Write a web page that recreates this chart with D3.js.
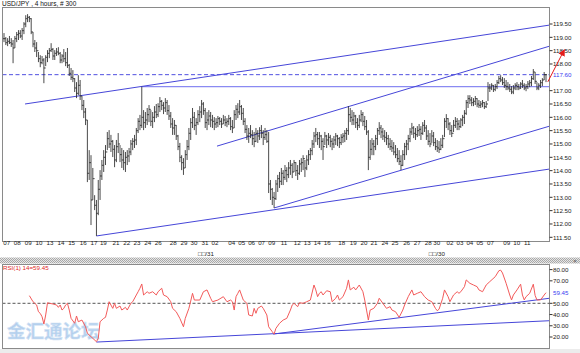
<!DOCTYPE html>
<html>
<head>
<meta charset="utf-8">
<script src="https://cdn.jsdelivr.net/npm/d3@7"></script>
<style>
  html, body { margin: 0; padding: 0; background: #fff; }
  svg { display: block; font-family: "Liberation Sans", Arial, sans-serif; }
</style>
</head>
<body>
<div id="chart"></div>
<script>
// 4-hour USD/JPY bars (bar 0 = left edge)
const high = [
  119.16,119.01,118.97,119.05,118.97,118.90,119.05,119.20,119.27,119.27,
  119.35,119.57,119.83,119.87,119.80,119.72,119.20,118.90,118.82,118.45,
  118.33,118.30,118.22,118.33,118.52,118.60,118.78,118.60,118.52,118.60,
  118.63,118.45,118.37,118.56,118.45,118.60,118.00,117.85,117.77,117.47,
  117.32,117.58,117.40,116.80,116.65,116.35,115.90,114.77,114.58,114.10,
  113.08,112.90,113.65,114.02,114.40,114.77,114.96,115.45,115.52,115.34,
  115.15,114.96,115.15,115.41,114.96,114.85,114.77,114.70,114.77,114.85,
  115.15,115.22,115.34,115.60,115.97,116.09,117.15,116.27,116.20,116.35,
  116.46,116.27,116.20,116.42,116.50,116.53,116.76,116.65,116.57,116.72,
  116.65,116.46,116.20,115.97,115.90,115.71,115.34,115.04,114.58,114.47,
  114.77,115.15,115.60,115.97,116.35,116.20,115.97,116.27,116.42,116.65,
  116.57,116.35,116.20,116.27,116.20,116.09,116.01,115.97,116.05,116.01,
  115.97,116.09,116.05,115.97,116.09,116.01,115.90,116.27,116.46,116.53,
  116.65,116.46,116.35,115.97,115.71,115.60,115.71,115.52,115.45,115.60,
  115.52,115.63,115.71,115.52,115.60,115.52,115.45,113.65,113.35,113.20,
  113.65,113.84,113.95,114.10,114.02,114.21,114.13,114.32,114.40,114.28,
  114.40,114.32,114.21,114.40,114.47,114.58,114.40,114.58,114.77,114.85,
  115.15,115.45,115.60,115.45,115.45,115.34,115.22,115.45,115.34,115.41,
  115.34,115.22,115.30,115.41,115.34,115.26,115.37,115.41,115.52,115.60,
  116.42,116.35,116.27,116.20,116.09,115.97,116.09,116.27,116.20,116.05,
  115.90,115.52,115.15,115.22,115.15,115.34,115.60,115.82,115.71,115.60,
  115.52,115.45,115.34,115.22,115.15,115.07,114.96,114.85,114.77,114.58,
  114.77,115.04,115.15,115.34,115.60,115.79,115.67,115.60,115.67,115.75,
  115.67,115.82,115.90,115.71,115.52,115.41,115.52,115.45,115.22,115.15,
  115.11,115.22,115.34,115.97,116.12,115.97,115.82,115.71,115.90,116.01,
  115.97,115.90,115.97,116.09,116.27,116.65,116.83,116.83,116.76,116.72,
  116.80,116.72,116.65,116.61,116.65,116.57,116.61,117.32,117.25,117.28,
  117.21,117.25,117.40,117.55,117.58,117.51,117.47,117.40,117.32,117.25,
  117.17,117.21,117.28,117.32,117.25,117.32,117.40,117.28,117.25,117.36,
  117.40,117.55,117.81,117.70,117.32,117.28,117.40,117.47,117.70,117.62
];
const low = [
  118.82,118.71,118.67,118.75,118.64,118.03,118.60,118.82,118.90,118.97,
  118.90,119.12,119.38,119.57,119.57,119.12,118.63,118.45,118.26,118.07,
  117.88,117.99,117.28,117.92,118.07,118.22,118.45,118.15,118.15,118.30,
  118.33,118.03,118.03,118.07,117.92,117.85,117.55,117.40,117.32,116.95,
  116.72,116.83,116.65,116.27,115.97,115.71,113.57,113.65,111.96,112.90,
  112.52,111.55,112.33,112.90,113.65,113.95,114.21,114.77,114.85,114.70,
  114.51,114.13,114.32,114.66,114.32,114.10,114.02,113.95,114.21,114.32,
  114.58,114.77,114.85,114.96,115.41,115.52,115.60,115.52,115.60,115.71,
  115.82,115.67,115.60,115.82,115.97,116.01,116.20,116.27,116.12,116.20,
  116.09,115.90,115.60,115.34,115.34,115.15,114.77,114.32,114.02,113.84,
  114.10,114.40,114.77,115.15,115.60,115.52,115.34,115.71,115.82,115.97,
  116.09,115.60,115.52,115.71,115.63,115.60,115.52,115.60,115.63,115.71,
  115.60,115.75,115.67,115.63,115.71,115.52,115.41,115.60,115.90,115.97,
  116.09,115.90,115.71,115.41,115.15,115.04,115.22,114.96,114.88,115.07,
  115.04,115.15,115.22,114.96,115.15,115.04,113.16,112.90,112.71,112.60,
  112.90,113.20,113.35,113.46,113.46,113.65,113.57,113.72,113.84,113.72,
  113.95,113.80,113.65,113.84,113.95,114.02,113.76,114.02,114.21,114.40,
  114.58,114.85,115.07,114.96,114.85,114.77,114.40,114.96,114.85,114.96,
  114.88,114.77,114.85,114.96,114.92,114.85,114.96,115.04,115.07,115.15,
  115.34,115.82,115.71,115.71,115.60,115.52,115.60,115.82,115.67,115.52,
  115.34,114.02,114.40,114.58,114.58,114.77,114.96,115.34,115.22,115.15,
  115.07,114.96,114.85,114.77,114.70,114.58,114.47,114.32,114.21,114.02,
  114.17,114.40,114.58,114.77,115.07,115.34,115.22,115.15,115.26,115.30,
  115.15,115.34,115.45,115.15,114.96,114.88,115.04,114.92,114.77,114.70,
  114.66,114.77,114.85,115.26,115.60,115.52,115.34,115.26,115.45,115.60,
  115.52,115.52,115.60,115.67,115.75,116.09,116.35,116.50,116.42,116.42,
  116.46,116.38,116.35,116.35,116.38,116.31,116.35,116.61,116.95,117.02,
  116.95,116.98,117.06,117.25,117.32,117.21,117.10,117.02,117.02,116.95,
  116.87,116.87,117.02,117.02,117.02,117.06,117.10,117.02,116.98,117.06,
  117.13,117.17,117.40,117.25,117.02,117.02,117.10,117.17,117.40,117.32
];
const close = [
  118.95,118.80,118.85,118.80,118.75,118.60,118.95,119.10,119.15,119.05,
  119.25,119.50,119.70,119.75,119.70,119.20,118.75,118.60,118.50,118.20,
  118.05,118.15,117.85,118.25,118.40,118.50,118.55,118.30,118.40,118.45,
  118.40,118.15,118.30,118.20,118.05,117.95,117.65,117.50,117.45,117.10,
  116.90,117.20,116.80,116.45,116.20,115.90,113.90,114.30,112.90,113.70,
  112.70,112.40,113.30,113.80,114.20,114.50,114.70,115.20,115.00,115.10,
  114.80,114.40,114.90,115.00,114.60,114.40,114.30,114.50,114.55,114.70,
  115.00,115.10,115.15,115.50,115.85,115.70,116.00,115.80,115.90,116.10,
  116.30,115.85,116.00,116.20,116.10,116.40,116.60,116.45,116.35,116.55,
  116.25,116.05,115.75,115.60,115.70,115.30,114.90,114.50,114.30,114.10,
  114.60,114.90,115.40,115.80,116.00,115.70,115.80,116.10,116.20,116.50,
  116.25,115.80,115.90,116.05,115.90,115.85,115.75,115.80,115.95,115.85,
  115.75,115.90,115.80,115.85,115.95,115.65,115.60,116.10,116.30,116.20,
  116.40,116.15,115.85,115.55,115.30,115.40,115.35,115.20,115.10,115.40,
  115.30,115.50,115.40,115.25,115.35,115.10,113.50,113.30,113.00,112.95,
  113.50,113.70,113.60,113.90,113.75,114.00,113.85,114.10,114.20,113.95,
  114.30,114.00,113.90,114.25,114.30,114.45,114.10,114.40,114.60,114.75,
  115.00,115.30,115.35,115.20,115.30,115.10,114.90,115.30,115.15,115.25,
  115.10,115.00,115.15,115.30,115.20,115.05,115.25,115.30,115.40,115.50,
  116.10,116.00,115.90,116.05,115.80,115.70,115.90,116.10,115.85,115.65,
  115.45,114.50,114.80,115.00,114.90,115.20,115.50,115.60,115.45,115.30,
  115.25,115.20,115.00,114.90,114.85,114.70,114.60,114.45,114.35,114.20,
  114.60,114.90,115.00,115.20,115.45,115.60,115.40,115.35,115.50,115.55,
  115.40,115.70,115.60,115.30,115.10,115.00,115.30,115.05,114.90,114.85,
  114.80,114.95,115.20,115.85,115.95,115.75,115.50,115.40,115.70,115.85,
  115.75,115.65,115.90,116.00,116.15,116.55,116.70,116.65,116.55,116.60,
  116.70,116.50,116.45,116.50,116.55,116.40,116.50,117.10,117.10,117.20,
  117.05,117.15,117.30,117.45,117.40,117.30,117.20,117.15,117.10,117.05,
  116.95,117.10,117.20,117.15,117.10,117.25,117.20,117.10,117.15,117.25,
  117.30,117.45,117.70,117.35,117.10,117.20,117.30,117.40,117.60,117.60
];

// RSI(14) read at these bars
const rsiBar = [
  14,16,18,19,20,21,22,23,24,25,27,29,30,31,32,33,34,35,36,37,39,40,41,43,45,46,48,
  51,52,53,55,56,57,58,60,61,62,64,65,67,68,70,71,73,74,75,76,77,79,80,82,84,85,87,
  88,90,92,93,95,97,99,100,102,103,104,105,108,110,112,114,115,118,121,123,125,126,
  127,128,129,130,132,134,135,137,138,139,140,142,143,145,146,148,149,150,152,154,
  156,158,159,160,162,163,165,167,169,171,172,173,174,175,176,178,180,181,183,184,
  185,187,189,190,191,193,194,196,198,199,200,201,202,204,206,207,209,211,213,214,
  216,218,220,221,223,225,226,228,230,232,234,236,238,239,240,242,243,245,246,248,
  250,251,252,254,255,257,259,261,262,264,266,268,271,273,274,275,277,279,280,281,
  283,285,286,287,288,290,292,293,294,296,298,299
];
const rsiVal = [
  56.8,51.4,48.5,42.5,41.0,38.0,31.6,39.6,50.5,50.0,49.4,48.5,46.4,48.5,44.0,45.5,48.5,50.0,44.0,36.6,32.2,38.7,33.6,35.1,29.1,23.3,20.3,
  15.8,18.8,33.6,36.6,37.5,44.0,51.4,45.5,50.0,45.5,47.6,44.0,46.4,44.0,50.0,51.4,57.4,60.3,63.4,67.2,57.4,60.3,58.9,60.3,57.4,60.3,63.4,
  57.4,55.9,51.4,45.5,42.5,36.6,29.1,36.6,45.5,52.0,58.9,52.9,52.9,60.3,61.9,54.5,51.4,52.9,55.9,51.4,52.9,51.4,
  44.0,55.9,58.9,61.9,52.9,50.0,39.6,38.7,45.5,41.1,45.5,47.6,45.5,39.6,29.1,24.7,22.6,27.7,32.2,35.1,
  36.6,44.0,48.5,50.0,47.0,50.5,50.0,51.4,52.9,66.3,61.9,55.9,58.9,60.3,57.4,61.2,60.3,51.4,54.5,57.4,
  52.9,55.9,63.4,70.8,61.9,64.3,61.9,66.3,60.3,52.9,44.0,35.1,44.0,45.5,50.0,54.5,50.0,45.5,47.0,44.0,
  42.5,37.5,44.0,48.5,55.9,61.9,57.4,58.9,60.3,55.9,52.9,51.4,45.5,43.4,44.7,54.5,61.9,55.9,51.4,57.4,
  60.3,58.9,60.3,64.8,70.8,67.8,66.3,64.8,61.9,60.3,66.3,69.3,73.7,79.0,79.5,77.0,67.8,57.4,53.0,57.4,
  61.9,67.0,57.4,53.0,55.9,58.9,67.0,57.0,53.0,53.0,57.4,59.45
];

// axis labels
const priceTicks = [111.5,112,112.5,113,113.5,114,114.5,115,115.5,116,116.5,117,118,118.5,119,119.5];
const lastPrice = 117.60;
const rsiTicks = [20,30,40,50,70,80];
const lastRsi = 59.45;
const dayLabels = ["07","08","09","10","13","14","15","16","17","19","21","22","23","24","26","28","29","30","31","02",
  "04","05","06","07","09","11","12","13","14","16","18","19","20","21","24","25","26","27","28","30",
  "02","03","04","05","07","09","10","11"];
const dayBars = [1.5,7.3,13.4,19.3,25.4,31.4,37.3,43.7,49.6,54.8,61.8,67.7,73.4,79.3,85.1,93.4,99.3,104.8,110.9,116.4,
  125.6,131.1,136.6,142.1,147.7,154.4,161.8,167.3,172.8,178.3,186.3,192.7,198.6,204.1,210.1,215.7,222.1,228,234,238.7,
  246,251.5,257,262.5,268.4,277.3,282.8,288.6];
const monthLabels = ["□□/31", "□□/30"];
const monthBars = [111.4, 238.8];

// trend lines: [bar0, value0, bar1, value1]
const priceLines = [[11.6,116.50,301,119.46],[117.5,114.92,301,118.67],[149,112.60,301,115.67],[51,111.55,301,114.06]];
const levelLine = [76, 117.15];
const rsiLines = [[51,15.5,301,34.5],[148.5,22.6,301,54.5]];
const arrowLine = [300, 117.33, 309, 118.52];

const W = 580, H = 353;
const svg = d3.select("#chart").append("svg").attr("width", W).attr("height", H);

const main = { left: 2.5, right: 549.5, top: 7.5, bottom: 241.5 };
const sub = { left: 2.5, right: 549.5, top: 264.5, bottom: 348.5 };

const x = d3.scaleLinear().domain([0, 299]).range([4, 546]);
const y = d3.scaleLinear().domain([111.5, 119.5]).range([237.3, 24]);
const yr = d3.scaleLinear().domain([20, 80]).range([337, 269.6]);

const blue = "#4646d8";
const fontSize = 6.2;

// clips, hatch and arrow head
const defs = svg.append("defs");
defs.append("clipPath").attr("id", "clipMain").append("rect")
  .attr("x", main.left).attr("y", main.top).attr("width", main.right - main.left).attr("height", main.bottom - main.top);
defs.append("clipPath").attr("id", "clipSub").append("rect")
  .attr("x", sub.left).attr("y", sub.top).attr("width", sub.right - sub.left).attr("height", sub.bottom - sub.top);
const hatch = defs.append("pattern").attr("id", "hatch").attr("width", 2).attr("height", 2)
  .attr("patternUnits", "userSpaceOnUse");
hatch.append("rect").attr("width", 2).attr("height", 2).attr("fill", "#e6e6e6");
hatch.append("rect").attr("width", 1).attr("height", 1).attr("fill", "#a8a8a8");
hatch.append("rect").attr("x", 1).attr("y", 1).attr("width", 1).attr("height", 1).attr("fill", "#a8a8a8");
defs.append("marker").attr("id", "arrowHead").attr("viewBox", "0 0 10 10")
  .attr("refX", 8).attr("refY", 5).attr("markerWidth", 7).attr("markerHeight", 7)
  .attr("markerUnits", "userSpaceOnUse").attr("orient", "auto")
  .append("path").attr("d", "M0,0 L10,5 L0,10 z").attr("fill", "#e41c1c");

// window strips
svg.append("rect").attr("x", 0).attr("y", 257.5).attr("width", W).attr("height", 6).attr("fill", "url(#hatch)");
svg.append("rect").attr("x", 0).attr("y", 349).attr("width", W).attr("height", 4).attr("fill", "#ececec");
svg.append("text").attr("x", 575).attr("y", 262.5).attr("text-anchor", "middle")
  .style("font-size", "6px").attr("fill", "#555").text("×");

// title
svg.append("text").attr("x", 2).attr("y", 6.2).style("font-size", "6.5px").attr("fill", "#111")
  .text("USD/JPY , 4 hours, # 300");

// ---- main price panel ----
const gMain = svg.append("g").attr("clip-path", "url(#clipMain)");

gMain.append("line")
  .attr("x1", main.left).attr("x2", main.right)
  .attr("y1", y(lastPrice)).attr("y2", y(lastPrice))
  .attr("stroke", "#5050e0").attr("stroke-dasharray", "4,2.5").attr("stroke-width", 1);

gMain.append("line")
  .attr("x1", x(levelLine[0])).attr("x2", main.right)
  .attr("y1", y(levelLine[1])).attr("y2", y(levelLine[1]))
  .attr("stroke", "#8a8af2").attr("stroke-width", 1.4);

gMain.selectAll(".tl").data(priceLines).enter().append("line")
  .attr("class", "tl")
  .attr("x1", d => x(d[0])).attr("y1", d => y(d[1]))
  .attr("x2", d => x(d[2])).attr("y2", d => y(d[3]))
  .attr("stroke", blue).attr("stroke-width", 1);

// OHLC bars, open tick taken from the previous close
gMain.append("g").selectAll("path").data(high).enter().append("path")
  .attr("d", (h, i) => {
    const cx = x(i);
    const o = i > 0 ? close[i - 1] : close[i];
    return `M${cx},${y(h)}V${y(low[i])}M${cx - 1},${y(o)}H${cx}M${cx},${y(close[i])}H${cx + 1}`;
  })
  .attr("fill", "none").attr("stroke", "#2a2a2a").attr("stroke-width", 0.85);

svg.append("rect").attr("x", main.left).attr("y", main.top)
  .attr("width", main.right - main.left).attr("height", main.bottom - main.top)
  .attr("fill", "none").attr("stroke", "#8a8a8a");

// price axis
const pAxis = svg.append("g").style("font-size", fontSize + "px");
pAxis.selectAll("line").data(priceTicks).enter().append("line")
  .attr("x1", main.right).attr("x2", main.right + 3)
  .attr("y1", d => y(d)).attr("y2", d => y(d)).attr("stroke", "#333");
pAxis.selectAll("text").data(priceTicks).enter().append("text")
  .attr("x", main.right + 3.5).attr("y", d => y(d) + 2.2).attr("fill", "#222")
  .text(d => d.toFixed(2));
pAxis.append("text").attr("x", main.right + 3.5).attr("y", y(lastPrice) + 2.2)
  .attr("fill", "#3c3cf0").text(lastPrice.toFixed(2));

// red arrow
svg.append("line")
  .attr("x1", x(arrowLine[0])).attr("y1", y(arrowLine[1]))
  .attr("x2", x(arrowLine[2])).attr("y2", y(arrowLine[3]))
  .attr("stroke", "#e41c1c").attr("stroke-width", 1).attr("marker-end", "url(#arrowHead)");

// time axis
const tAxis = svg.append("g").style("font-size", fontSize + "px").attr("fill", "#222");
tAxis.selectAll(".day").data(dayLabels).enter().append("text")
  .attr("class", "day").attr("x", (d, i) => x(dayBars[i])).attr("y", 245)
  .attr("text-anchor", "middle").text(d => d);
tAxis.selectAll(".mon").data(monthLabels).enter().append("text")
  .attr("class", "mon").attr("x", (d, i) => x(monthBars[i])).attr("y", 256)
  .attr("text-anchor", "middle").text(d => d);

// ---- RSI panel ----
const gSub = svg.append("g").attr("clip-path", "url(#clipSub)");

// forum watermark
gSub.append("text").attr("x", 7).attr("y", 338)
  .style("font-family", "'Noto Sans CJK SC', sans-serif").style("font-weight", "bold")
  .style("font-size", "18.5px").attr("fill", "#9cc0e8").attr("fill-opacity", 0.75)
  .attr("stroke", "#d2e3f5").attr("stroke-width", 0.6)
  .text("金汇通论坛");

gSub.append("line")
  .attr("x1", sub.left).attr("x2", sub.right)
  .attr("y1", yr(50)).attr("y2", yr(50))
  .attr("stroke", "#555").attr("stroke-dasharray", "3,2");

gSub.selectAll(".rl").data(rsiLines).enter().append("line")
  .attr("class", "rl")
  .attr("x1", d => x(d[0])).attr("y1", d => yr(d[1]))
  .attr("x2", d => x(d[2])).attr("y2", d => yr(d[3]))
  .attr("stroke", blue).attr("stroke-width", 1);

const rsiLine = d3.line().x(d => x(d[0])).y(d => yr(d[1]));
gSub.append("path")
  .datum(rsiBar.map((b, i) => [b, rsiVal[i]]))
  .attr("d", rsiLine).attr("fill", "none").attr("stroke", "#f25a5a").attr("stroke-width", 1);

svg.append("text").attr("x", 3).attr("y", 270.2).style("font-size", fontSize + "px")
  .attr("fill", "#e02828").text("RSI(1) 14=" + lastRsi.toFixed(2));

svg.append("rect").attr("x", sub.left).attr("y", sub.top)
  .attr("width", sub.right - sub.left).attr("height", sub.bottom - sub.top)
  .attr("fill", "none").attr("stroke", "#8a8a8a");

const rAxis = svg.append("g").style("font-size", fontSize + "px");
rAxis.selectAll("line").data(rsiTicks).enter().append("line")
  .attr("x1", sub.right).attr("x2", sub.right + 3)
  .attr("y1", d => yr(d)).attr("y2", d => yr(d)).attr("stroke", "#333");
rAxis.selectAll("text").data(rsiTicks).enter().append("text")
  .attr("x", sub.right + 3.5).attr("y", d => yr(d) + 2.2).attr("fill", "#222")
  .text(d => d.toFixed(2));
rAxis.append("text").attr("x", sub.right + 3.5).attr("y", yr(lastRsi) + 2.2)
  .attr("fill", "#3c3cf0").text(lastRsi.toFixed(2));
</script>
</body>
</html>
